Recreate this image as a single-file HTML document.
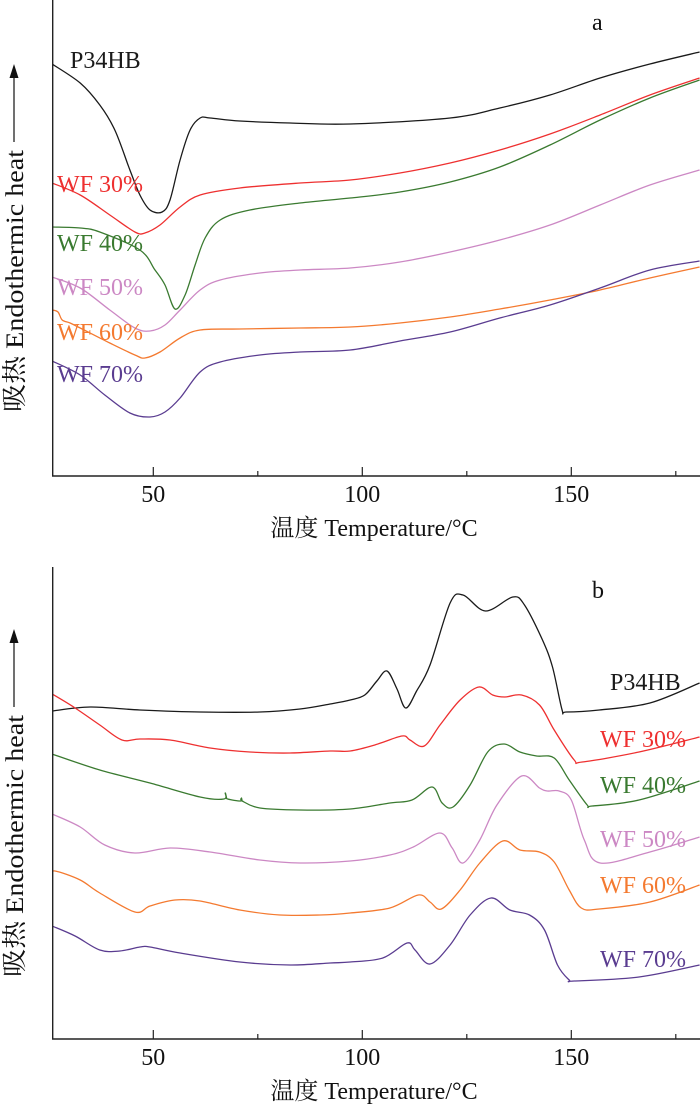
<!DOCTYPE html>
<html><head><meta charset="utf-8">
<style>
html,body{margin:0;padding:0;background:#fff;}
svg{display:block;font-family:"Liberation Serif","Noto Serif CJK SC","Noto Sans CJK SC",serif;}
</style></head>
<body>
<svg id="chart" width="700" height="1105" viewBox="0 0 700 1105" xmlns="http://www.w3.org/2000/svg"></svg>
<script>
// ---- data: panel a (temperature °C, heat flow a.u.) ----
const aBlackT=[25.8,32.5,37.2,40.8,44.4,46.8,49.2,52.1,54.0,56.4,58.8,61.2,63.6,70.7,82.7,97.1,121.0,132.9,144.9,156.9,168.8,180.7];
const aBlackV=[412,393,371,346,306,281,266,264,276,316,346,358,358,355,353,352,358,368,381,398,412,424];
const aRedT=[25.8,32.5,39.6,45.6,48.0,51.6,56.4,61.2,70.7,85.1,97.1,109.0,121.0,132.9,144.9,156.9,168.8,180.7];
const aRedV=[293,281,261,244,243,251,269,281,288,293,296,303,313,326,342,361,381,398];
const aGreenT=[25.8,32.5,37.2,46.8,50.4,52.8,55.2,57.6,60.0,62.4,66.0,73.1,85.1,97.1,109.0,121.0,132.9,144.9,156.9,168.8,180.7];
const aGreenV=[249,248,244,226,206,191,167,181,211,238,256,266,273,278,284,294,309,331,356,378,396];
const aPinkT=[25.8,32.5,39.6,45.6,49.2,52.8,56.4,61.2,66.0,75.5,85.1,97.1,109.0,121.0,132.9,144.9,156.9,168.8,180.7];
const aPinkV=[199,188,166,148,145,151,166,186,196,203,206,208,214,224,236,251,271,291,306];
const aOrangeT=[25.8,27.2,28.2,30.1,32.5,39.6,45.6,48.0,51.6,56.4,61.2,70.7,85.1,97.1,109.0,121.0,132.9,144.9,156.9,168.8,180.7];
const aOrangeV=[166,164,156,153,148,133,121,118,124,138,146,147,148,149,153,159,167,176,186,198,209];
const aPurpleT=[25.8,32.5,38.4,44.4,49.2,52.8,56.4,61.2,66.0,75.5,85.1,97.1,109.0,121.0,132.9,144.9,156.9,168.8,180.7];
const aPurpleV=[115,101,81,63,59,64,78,104,114,121,124,126,135,144,158,171,188,206,215];
// ---- data: panel b ----
const bBlackT=[25.8,34.9,46.8,61.2,75.5,85.1,92.3,97.1,100.6,103.5,105.9,108.3,110.4,113.0,116.2,121.0,124.1,129.5,136.0,138.8,143.1,145.5,147.8,148.8,156.7,168.8,180.7];
const bBlackV=[328,332,329,327,327,330,335,339,344,358,368,350,331,348,374,436,444,428,442,434,399,372,329,327,329,336,356];
const bRedT=[25.8,31.3,37.2,42.5,46.8,54.0,63.6,73.1,82.7,92.3,97.1,103.0,109.5,111.4,114.8,118.6,123.4,127.9,131.2,134.1,138.1,142.4,145.9,150.7,152.6,166.2,180.7];
const bRedV=[345,331,314,299,300,299,291,287,286,288,288,294,303,299,293,314,339,352,344,342,344,334,309,279,277,287,302];
const bGreenT=[25.8,37.2,49.2,61.2,66.9,67.2,67.5,67.8,70.9,71.1,71.3,75.5,85.1,97.1,106.6,111.9,116.7,119.1,121.7,125.8,130.0,133.9,137.7,141.7,145.9,149.5,153.8,155.0,166.2,180.7];
const bGreenV=[285,269,256,242,240,246,242,240,238,241,238,231,229,230,236,239,252,236,232,254,287,295,287,283,281,259,234,233,239,258];
const bPinkT=[25.8,32.5,38.4,45.6,54.0,63.6,75.5,85.1,97.1,106.6,112.2,118.6,121.5,124.1,128.1,132.2,138.1,142.4,144.3,147.1,150.0,153.1,156.9,168.8,180.7];
const bPinkV=[225,212,194,186,191,187,179,176,178,184,192,206,191,176,199,234,263,251,248,248,239,199,176,187,202];
const bOrangeT=[25.8,26.5,32.5,37.2,45.6,49.2,55.2,61.2,70.7,80.3,89.9,97.1,106.6,113.4,116.2,118.9,123.4,128.1,133.6,137.7,142.4,145.9,149.5,152.4,156.7,168.8,180.7];
const bOrangeV=[164,168,159,146,127,133,139,138,129,124,124,126,131,144,137,130,149,176,198,189,187,177,149,131,130,137,154];
const bPurpleT=[25.8,31.3,37.2,42.0,46.8,49.2,56.4,70.7,82.7,92.3,97.1,104.9,110.7,112.6,116.2,121.0,125.8,130.8,135.3,140.0,143.6,146.7,149.5,150.7,166.2,180.7];
const bPurpleV=[113,103,89,88,92,92,86,77,74,76,77,81,96,89,75,94,124,141,129,124,109,74,59,58,62,74];
const tickVals=[50,100,150];
const minorTickVals=[75,125,175];
const seriesNames=["P34HB","WF 30%","WF 40%","WF 50%","WF 60%","WF 70%"];
const seriesColors=["#1a1a1a","#ee3030","#3a7a30","#cc88c4","#f47a30","#5a3c90"];

const NS="http://www.w3.org/2000/svg";
const svg=document.getElementById('chart');
function mk(tag,attrs,parent){const e=document.createElementNS(NS,tag);for(const k in attrs)e.setAttribute(k,attrs[k]);(parent||svg).appendChild(e);return e;}
function xScale(t){return 153.3+(t-50)*4.18;}
const X0=52.7,XR=700;

function smoothPath(pts){
  let d="M"+pts[0][0].toFixed(1)+","+pts[0][1].toFixed(1);
  for(let i=0;i<pts.length-1;i++){
    const p0=pts[Math.max(0,i-1)],p1=pts[i],p2=pts[i+1],p3=pts[Math.min(pts.length-1,i+2)];
    const c1x=p1[0]+(p2[0]-p0[0])/6,c1y=p1[1]+(p2[1]-p0[1])/6;
    const c2x=p2[0]-(p3[0]-p1[0])/6,c2y=p2[1]-(p3[1]-p1[1])/6;
    d+="C"+c1x.toFixed(1)+","+c1y.toFixed(1)+" "+c2x.toFixed(1)+","+c2y.toFixed(1)+" "+p2[0].toFixed(1)+","+p2[1].toFixed(1);
  }
  return d;
}

function panel(key,top,bottom,series,labels,letterY){
  const g=mk('g',{});
  
  
  const yScale=v=>bottom-v;
  const clip=mk('clipPath',{id:'clip'+key},g);
  mk('rect',{x:X0,y:top,width:XR-X0,height:bottom-top},clip);
  series.forEach((s,i)=>{
    const pts=s[0].map((t,j)=>[xScale(t),yScale(s[1][j])]);
    const p=mk('path',{d:smoothPath(pts),fill:'none',stroke:seriesColors[i],'stroke-width':1.3,'clip-path':'url(#clip'+key+')'},g);
    
    
  });
  const ax=mk('path',{d:`M${X0},${top}V${bottom}H${XR}`,fill:'none',stroke:'#222','stroke-width':1.4},g);
  
  
  tickVals.forEach(v=>{
    const x=xScale(v);
    const t=mk('line',{x1:x,x2:x,y1:bottom,y2:bottom-9,stroke:'#222','stroke-width':1.2},g);
    
    
    const l=mk('text',{x:x,y:bottom+26,'text-anchor':'middle','font-size':24,fill:'#111'},g);
    l.textContent=v;
    
    
  });
  minorTickVals.forEach(v=>{
    const x=xScale(v);
    const t=mk('line',{x1:x,x2:x,y1:bottom,y2:bottom-5,stroke:'#222','stroke-width':1.2},g);
    
    
  });
  const xt=mk('text',{x:374,y:bottom+60,'text-anchor':'middle','font-size':24,fill:'#111'},g);
  xt.textContent='温度  Temperature/°C';
  
  
  xt.setAttribute('xml:space','preserve');
  const mid=(top+bottom)/2;
  const yg=mk('g',{transform:`translate(23,${mid+174}) rotate(-90)`},g);
  
  
  const yt=mk('text',{x:0,y:0,'font-size':25,fill:'#111',textLength:262,lengthAdjust:'spacingAndGlyphs'},yg);
  yt.textContent='吸热  Endothermic heat';
  yt.setAttribute('xml:space','preserve');
  mk('line',{x1:270,x2:340,y1:-9,y2:-9,stroke:'#111','stroke-width':1.2},yg);
  mk('polygon',{points:'348,-9 334,-13.5 334,-4.5',fill:'#111'},yg);
  const lt=mk('text',{x:592,y:letterY,'font-size':24,fill:'#111'},g);
  lt.textContent=key;
  
  
  labels.forEach((L,i)=>{
    const tx=mk('text',{x:L[0],y:L[1],'font-size':24,fill:seriesColors[i]},g);
    tx.textContent=seriesNames[i];
    
    
  });
}

panel('a',0,476,
 [[aBlackT,aBlackV],[aRedT,aRedV],[aGreenT,aGreenV],[aPinkT,aPinkV],[aOrangeT,aOrangeV],[aPurpleT,aPurpleV]],
 [[70,68],[57,192],[57,251],[57,295],[57,340],[57,382]],30);
panel('b',567,1039,
 [[bBlackT,bBlackV],[bRedT,bRedV],[bGreenT,bGreenV],[bPinkT,bPinkV],[bOrangeT,bOrangeV],[bPurpleT,bPurpleV]],
 [[610,690],[600,747],[600,793],[600,847],[600,893],[600,967]],598);
</script>
</body></html>
